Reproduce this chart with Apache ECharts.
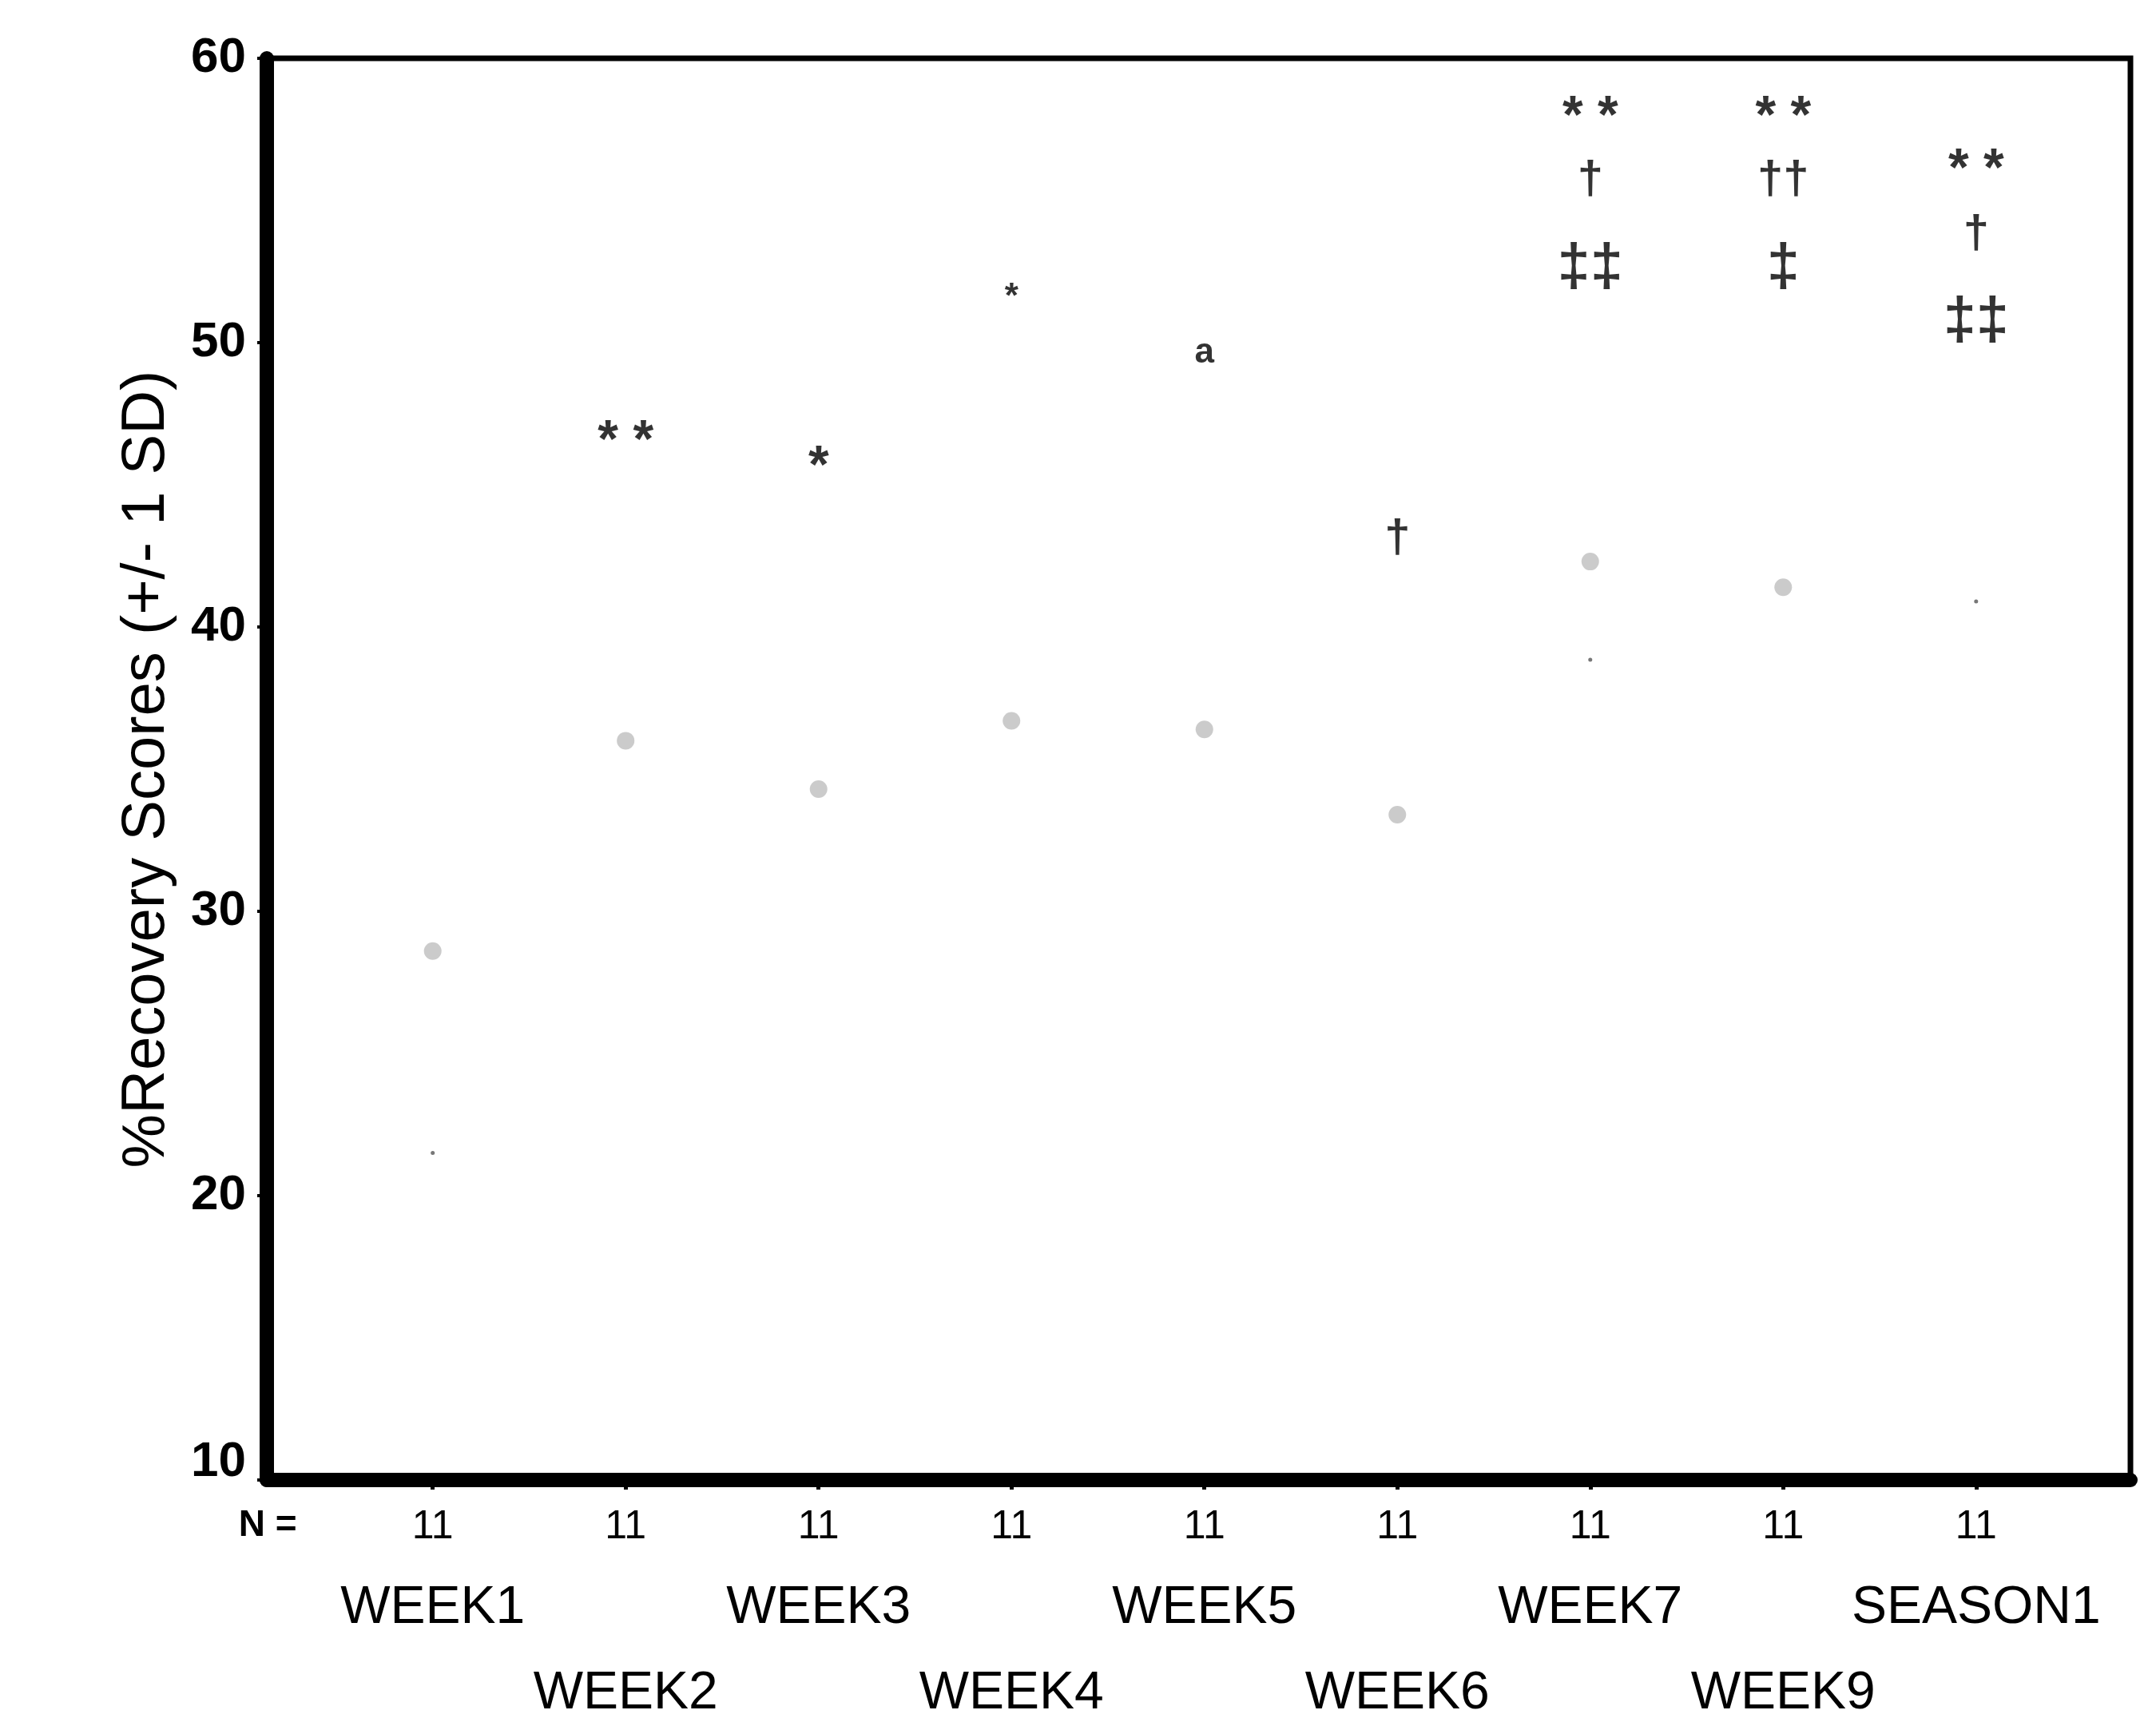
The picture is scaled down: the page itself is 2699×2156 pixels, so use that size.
<!DOCTYPE html>
<html>
<head>
<meta charset="utf-8">
<script src="https://cdn.jsdelivr.net/npm/echarts@6/dist/echarts.min.js"></script>
<style>
  html, body { margin: 0; padding: 0; background: #fff; }
  #chart { width: 2699px; height: 2156px; }
</style>
</head>
<body>
<div id="chart"></div>
<script>
// categories along the x axis, in plotted order (1..9)
var categories = ['WEEK1', 'WEEK2', 'WEEK3', 'WEEK4', 'WEEK5', 'WEEK6', 'WEEK7', 'WEEK9', 'SEASON1'];
var nValues = [11, 11, 11, 11, 11, 11, 11, 11, 11];
var catPos = [1, 2, 3, 4, 5, 6, 7, 8, 9];

// y ticks
var yMin = 10, yMax = 60, yStep = 10;

// faint grey markers left in the scan (one per category, null = none visible)
var greyMarks = [28.6, 36.0, 34.3, 36.7, 36.4, 33.4, 42.3, 41.4, null];
// tiny specks
var faintDots = [21.5, null, null, null, null, null, 38.85, null, 40.9];

// significance symbols: [category position, value, text]
var starMarks = [[2, 46.9, '* *'], [3, 46.0, '*'], [7, 58.3, '* *'], [8, 58.3, '* *'], [9, 56.45, '* *']];
var smallMarks = [[4, 51.7, '*'], [5, 49.75, 'a']];
var daggerMarks = [[6, 43.1, '†'], [7, 55.7, '†'], [8, 55.7, '††'], [9, 53.8, '†']];
var dblDaggerMarks = [[7, 52.6, '‡‡'], [8, 52.6, '‡'], [9, 50.7, '‡‡']];

var FONT = '"Liberation Sans", Arial, sans-serif';

function pairs(vals) {
    var out = [];
    vals.forEach(function (v, i) {
        if (v !== null) out.push([catPos[i], v]);
    });
    return out;
}

function textSeries(marks, size, weight, dy) {
    return {
        type: 'scatter',
        symbol: 'circle',
        symbolSize: 1,
        itemStyle: { color: 'rgba(0,0,0,0)' },
        silent: true,
        data: marks.map(function (m) { return { value: [m[0], m[1]], name: m[2] }; }),
        label: {
            show: true,
            position: 'inside',
            offset: [0, dy],
            formatter: function (p) { return p.name; },
            color: '#000',
            fontFamily: FONT,
            fontWeight: weight,
            fontSize: size
        },
        z: 5
    };
}

var xCommon = {
    type: 'value',
    min: 0.14,
    max: 9.8,
    position: 'bottom',
    splitLine: { show: false }
};

var chart = echarts.init(document.getElementById('chart'));

var option = {
    backgroundColor: '#fff',
    animation: false,
    grid: {
        left: 334, right: 32, top: 73, bottom: 303,
        show: true, borderColor: '#000', borderWidth: 7, backgroundColor: '#fff'
    },
    xAxis: [
        Object.assign({}, xCommon, {
            axisLine: { show: true, onZero: false, lineStyle: { color: '#000', width: 18 } },
            axisTick: { show: true, customValues: catPos, length: 12, lineStyle: { color: '#000', width: 5 } },
            axisLabel: {
                customValues: [0.145].concat(catPos),
                margin: 34,
                formatter: function (v) {
                    if (v < 0.5) return '{n|N =}';
                    return '{c|' + nValues[Math.round(v) - 1] + '}';
                },
                rich: {
                    n: { fontFamily: FONT, fontWeight: 'bold', fontSize: 46, color: '#000' },
                    c: { fontFamily: FONT, fontSize: 50, color: '#000' }
                }
            }
        }),
        Object.assign({}, xCommon, {
            axisLine: { show: false },
            axisTick: { show: false },
            axisLabel: {
                customValues: [1, 3, 5, 7, 9],
                margin: 128,
                formatter: function (v) { return categories[Math.round(v) - 1]; },
                fontFamily: FONT, fontSize: 66, color: '#000'
            }
        }),
        Object.assign({}, xCommon, {
            axisLine: { show: false },
            axisTick: { show: false },
            axisLabel: {
                customValues: [2, 4, 6, 8],
                margin: 235,
                formatter: function (v) { return categories[Math.round(v) - 1]; },
                fontFamily: FONT, fontSize: 66, color: '#000'
            }
        })
    ],
    yAxis: {
        type: 'value',
        min: yMin,
        max: yMax,
        interval: yStep,
        name: '%Recovery Scores (+/- 1 SD)',
        nameLocation: 'middle',
        nameRotate: 90,
        nameGap: 112,
        nameTextStyle: { fontFamily: FONT, fontSize: 76, color: '#000' },
        axisLine: { show: true, onZero: false, lineStyle: { color: '#000', width: 18 } },
        axisTick: { show: true, length: 12, lineStyle: { color: '#000', width: 4 } },
        axisLabel: {
            margin: 26,
            formatter: function (v) {
                return v === yMin ? '{low|' + v + '}' : '{t|' + v + '}';
            },
            rich: {
                t: { fontFamily: FONT, fontWeight: 'bold', fontSize: 62, color: '#000' },
                low: { fontFamily: FONT, fontWeight: 'bold', fontSize: 62, color: '#000', padding: [0, 0, 44, 0] }
            }
        },
        splitLine: { show: false }
    },
    series: [
        {
            type: 'scatter',
            symbol: 'circle',
            symbolSize: 22,
            itemStyle: { color: '#c2c2c2', opacity: 0.85 },
            data: pairs(greyMarks)
        },
        {
            type: 'scatter',
            symbol: 'circle',
            symbolSize: 5,
            itemStyle: { color: '#555' },
            data: pairs(faintDots)
        },
        textSeries(starMarks, 66, 'bold', 14),
        textSeries(smallMarks, 44, 'bold', 4),
        textSeries(daggerMarks, 58, 'bold', 0),
        textSeries(dblDaggerMarks, 74, 'bold', 0)
    ]
};

chart.setOption(option);
</script>
</body>
</html>
